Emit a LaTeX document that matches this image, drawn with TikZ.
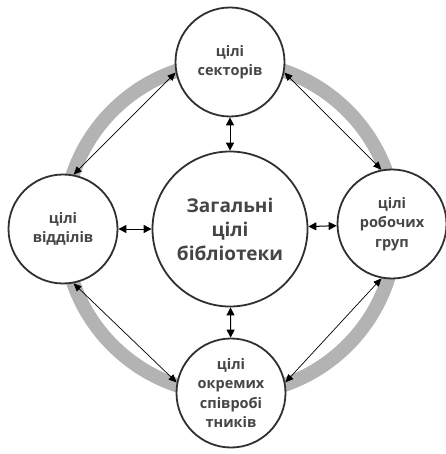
\documentclass[tikz,border=0pt]{standalone}
\usepackage{fontspec}
\setmainfont{Open Sans}
\usetikzlibrary{arrows.meta}
\definecolor{ringgray}{HTML}{B3B3B3}
\definecolor{txtgray}{HTML}{454545}
\definecolor{edge}{HTML}{303030}
\begin{document}
\begin{tikzpicture}[x=1pt,y=-1pt,
  outer/.style={circle,draw=edge,line width=1.8pt,fill=white,minimum size=109pt,inner sep=0pt,
    align=center,text=txtgray,font=\fontsize{14.5}{19.5}\selectfont\bfseries},
  inner/.style={circle,draw=edge,line width=1.8pt,fill=white,minimum size=155pt,inner sep=0pt,
    align=center,text=txtgray,font=\fontsize{19}{24}\selectfont\bfseries},
  chord/.style={{Triangle[length=8pt,width=7pt]}-{Triangle[length=8pt,width=7pt]},line width=0.7pt,black},
  link/.style={{Triangle[length=8pt,width=8pt]}-{Triangle[length=8pt,width=8pt]},line width=1pt,black}]
\useasboundingbox (0,0) rectangle (445,454);
\coordinate (c) at (230,228);
\draw[ringgray,line width=14pt] (c) circle[radius=166pt];
\node[inner] (main) at (230,229) {Загальні\\цілі\\бібліотеки};
\node[outer] (top) at (230,62) {цілі\\секторів};
\node[outer] (left) at (63,229) {цілі\\відділів};
\node[outer] (right) at (392,224) {цілі\\робочих\\груп};
\node[outer] (bottom) at (231,393) {цілі\\окремих\\співробі\\тників};
\draw[link] (main) -- (top);
\draw[link] (main) -- (left);
\draw[link] (main) -- (right);
\draw[link] (main) -- (bottom);
\draw[chord] (top.191) -- (left.79);
\draw[chord] (top.349) -- (right.101);
\draw[chord] (right.259) -- (bottom.11);
\draw[chord] (left.281) -- (bottom.169);
\end{tikzpicture}
\end{document}
